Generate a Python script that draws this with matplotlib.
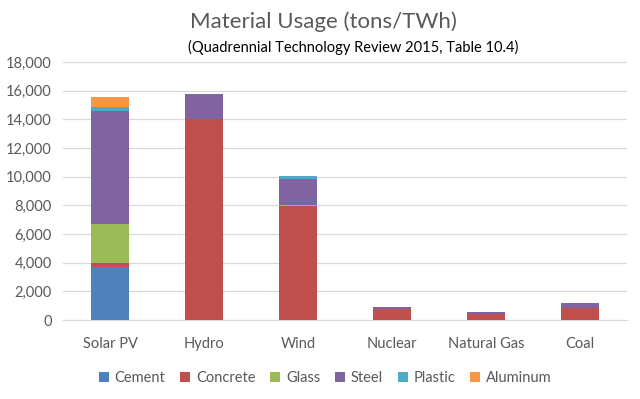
import matplotlib
matplotlib.use("Agg")
import matplotlib.pyplot as plt
import numpy as np

categories = ["Solar PV", "Hydro", "Wind", "Nuclear", "Natural Gas", "Coal"]
materials = ["Cement", "Concrete", "Glass", "Steel", "Plastic", "Aluminum"]
cement = [3700, 0, 0, 0, 0, 0]
concrete = [300, 14000, 7950, 760, 400, 860]
glass = [2700, 0, 100, 0, 0, 0]
steel = [7900, 1800, 1800, 160, 180, 310]
plastic = [250, 0, 200, 0, 0, 0]
aluminum = [700, 0, 0, 0, 0, 0]
colors = ["#4F81BD", "#C0504D", "#9BBB59", "#8064A2", "#4BACC6", "#F79646"]

plt.rcParams["font.family"] = ["Lato", "DejaVu Sans"]

fig = plt.figure(figsize=(6.4, 3.99), dpi=100)
ax = fig.add_axes([63 / 640, 1 - 320 / 399, 564 / 640, 258 / 399])

x = np.arange(len(categories))
bottom = np.zeros(len(categories))
for name, vals, c in zip(materials, [cement, concrete, glass, steel, plastic, aluminum], colors):
    ax.bar(x, vals, width=0.4, bottom=bottom, color=c, label=name, zorder=3)
    bottom += np.array(vals)

ax.set_xlim(-0.5, len(categories) - 0.5)
ax.set_ylim(0, 18000)
ax.set_yticks(np.arange(0, 18001, 2000))
ax.set_yticklabels([f"{v:,}" for v in range(0, 18001, 2000)], color="#595959", fontsize=10.5)
ax.set_xticks(x)
ax.set_xticklabels(categories, color="#595959", fontsize=10.5)
ax.grid(axis="y", color="#D9D9D9", linewidth=0.9, zorder=0)
for s in ["top", "right", "left"]:
    ax.spines[s].set_visible(False)
ax.spines["bottom"].set_color("#D9D9D9")
ax.tick_params(length=0, pad=8)
ax.tick_params(axis="x", pad=12)

fig.text(0.505, 1 - 22 / 399, "Material Usage (tons/TWh)", ha="center", va="center",
         fontsize=16, color="#595959")
fig.text(0.552, 1 - 47 / 399, "(Quadrennial Technology Review 2015, Table 10.4)", ha="center",
         va="center", fontsize=10.5, color="#000000")

ax.legend(loc="center", bbox_to_anchor=(0.465, -0.225), ncol=6, frameon=False,
          fontsize=10.5, handlelength=0.7, handleheight=0.7, columnspacing=1.0,
          handletextpad=0.4, labelcolor="#595959")

fig.savefig("out.png", dpi=100)
